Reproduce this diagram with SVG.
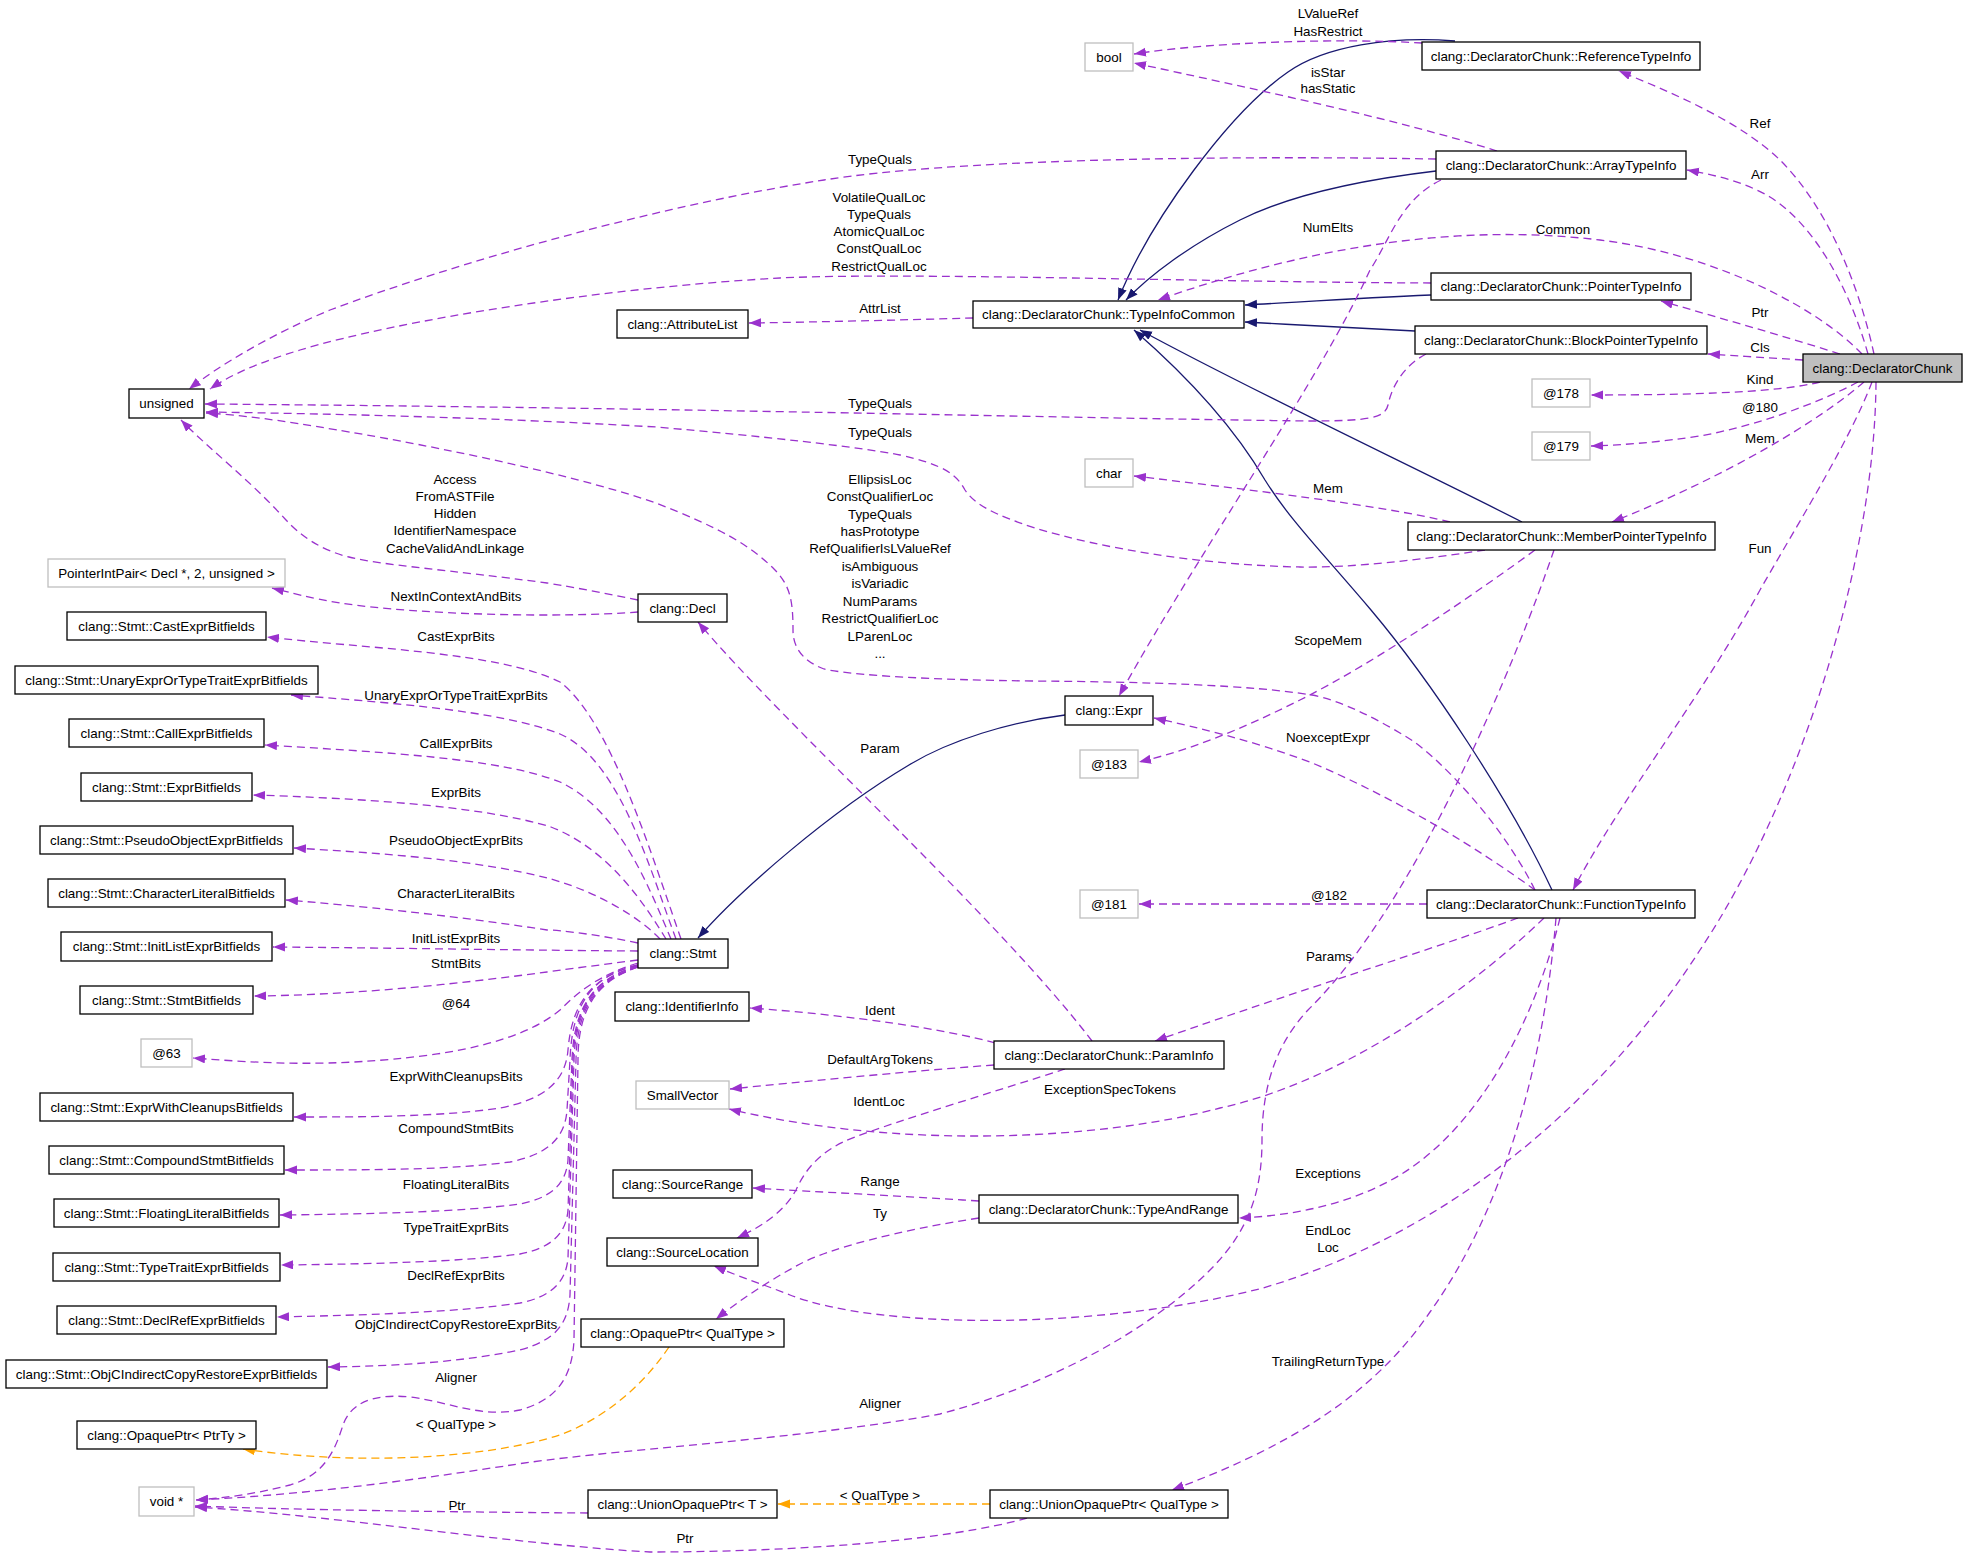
<svg xmlns="http://www.w3.org/2000/svg" width="1968" height="1558" viewBox="0 0 1968 1558">
<style>
rect{fill:#fff;stroke:#000;stroke-width:1.3}
.g rect{stroke:#bfbfbf}
.m rect{fill:#bfbfbf}
text{font-family:"Liberation Sans",Arial,Helvetica,sans-serif;font-size:13.4px;text-anchor:middle;fill:#000}
.e{fill:none;stroke:#9a32cd;stroke-width:1.3;stroke-dasharray:8,5;marker-end:url(#ap)}
.i{fill:none;stroke:#191970;stroke-width:1.3;marker-end:url(#an)}
.o{fill:none;stroke:#ffa500;stroke-width:1.3;stroke-dasharray:8,5;marker-end:url(#ao)}
</style>
<defs>
<marker id="ap" markerWidth="13" markerHeight="10" refX="12" refY="4.5" orient="auto" markerUnits="userSpaceOnUse"><path d="M0,0 L12,4.5 L0,9 z" fill="#9a32cd"/></marker>
<marker id="an" markerWidth="13" markerHeight="10" refX="12" refY="4.5" orient="auto" markerUnits="userSpaceOnUse"><path d="M0,0 L12,4.5 L0,9 z" fill="#191970"/></marker>
<marker id="ao" markerWidth="13" markerHeight="10" refX="12" refY="4.5" orient="auto" markerUnits="userSpaceOnUse"><path d="M0,0 L12,4.5 L0,9 z" fill="#ffa500"/></marker>
</defs>
<rect x="0" y="0" width="1968" height="1558" style="fill:#fff;stroke:none"/>
<g id="edges">
<path class="i" d="M1455,41 C1390,36 1325,46 1288,72 C1230,112 1150,220 1118,300"/>
<path class="i" d="M1436,171 C1360,180 1290,195 1240,220 C1190,245 1150,275 1126,300"/>
<path class="i" d="M1431,295 C1360,298 1300,302 1245,305"/>
<path class="i" d="M1415,331 C1350,328 1300,325 1245,322"/>
<path class="i" d="M1522,522 C1420,470 1250,390 1140,330"/>
<path class="i" d="M1552,890 C1510,800 1430,680 1371,610 C1320,550 1290,520 1265,480 C1230,420 1180,370 1134,330"/>
<path class="i" d="M1065,715 C1010,722 950,740 909,765 C830,812 740,890 698,938"/>
<path class="e" d="M1874,354 C1860,290 1830,210 1780,160 C1740,122 1680,96 1619,71"/>
<path class="e" d="M1868,354 C1850,290 1815,225 1770,197 C1745,182 1715,175 1687,170"/>
<path class="e" d="M1862,354 C1820,310 1720,255 1600,240 C1450,222 1300,250 1158,300"/>
<path class="e" d="M1840,354 C1780,335 1720,318 1661,301"/>
<path class="e" d="M1803,360 C1770,358 1740,356 1708,354"/>
<path class="e" d="M1820,382 C1780,392 1700,395 1591,395"/>
<path class="e" d="M1858,382 C1820,402 1760,425 1700,436 C1660,442 1625,445 1591,446"/>
<path class="e" d="M1864,382 C1820,420 1730,475 1612,522"/>
<path class="e" d="M1872,382 C1850,440 1800,520 1760,590 C1700,700 1620,800 1573,890"/>
<path class="e" d="M1876,382 C1875,560 1800,800 1700,950 C1610,1090 1460,1230 1263,1288 C1100,1330 880,1330 790,1295 C765,1285 740,1277 714,1266"/>
<path class="e" d="M1497,151 C1400,120 1250,88 1134,63"/>
<path class="e" d="M1422,43 C1340,38 1210,42 1134,54"/>
<path class="e" d="M1436,159 C1200,155 950,160 824,180 C650,207 450,265 330,310 C270,335 220,365 189,389"/>
<path class="e" d="M1431,283 C1200,282 900,272 780,278 C600,288 400,320 300,350 C260,362 230,375 210,389"/>
<path class="e" d="M1426,354 C1405,365 1392,385 1388,405 C1385,418 1370,421 1308,421 C1000,417 700,408 205,404"/>
<path class="e" d="M1485,550 C1420,560 1350,568 1300,567 C1200,565 1100,548 1035,528 C995,515 975,505 965,490 C957,475 945,465 900,455 C860,447 760,436 656,427 C500,418 350,414 206,412"/>
<path class="e" d="M1535,890 C1500,820 1440,760 1413,741 C1380,720 1340,700 1312,695 C1250,685 1150,682 1035,681 C930,680 850,675 824,669 C800,660 793,645 793,630 C793,600 790,585 774,569 C750,545 720,528 656,503 C560,470 400,440 337,430 C280,420 240,415 206,413"/>
<path class="e" d="M638,600 C600,592 560,585 547,583 C450,570 380,565 349,557 C320,550 300,535 286,520 C250,480 210,450 181,420"/>
<path class="e" d="M638,612 C560,618 420,615 340,603 C310,598 292,593 272,588"/>
<path class="e" d="M973,318 C900,320 820,322 749,323"/>
<path class="e" d="M1441,180 C1400,200 1390,240 1370,270 C1320,380 1200,550 1119,696"/>
<path class="e" d="M1450,522 C1380,505 1250,490 1134,476"/>
<path class="e" d="M1535,550 C1480,590 1380,660 1300,700 C1240,730 1190,750 1139,762"/>
<path class="e" d="M1554,550 C1520,650 1420,900 1308,1010 C1280,1040 1262,1080 1262,1140 C1262,1190 1250,1230 1210,1270 C1150,1330 1050,1385 940,1414 C800,1440 600,1450 505,1466 C400,1482 300,1495 196,1500"/>
<path class="e" d="M1535,890 C1480,850 1400,800 1310,762 C1250,740 1200,728 1154,718"/>
<path class="e" d="M1427,904 L1139,904"/>
<path class="e" d="M1518,918 C1430,950 1300,990 1155,1041"/>
<path class="e" d="M1544,918 C1480,980 1350,1080 1220,1108 C1100,1140 900,1150 729,1109"/>
<path class="e" d="M1560,918 C1540,1000 1490,1120 1400,1175 C1350,1205 1290,1216 1239,1218"/>
<path class="e" d="M1556,918 C1545,1050 1510,1200 1430,1312 C1370,1400 1280,1450 1172,1490"/>
<path class="e" d="M1092,1041 C1000,920 780,720 698,622"/>
<path class="e" d="M995,1043 C950,1030 850,1015 750,1008"/>
<path class="e" d="M994,1065 C900,1072 800,1082 730,1089"/>
<path class="e" d="M1065,1069 C1000,1090 900,1120 855,1137 C820,1150 805,1170 796,1190 C785,1210 765,1225 737,1238"/>
<path class="e" d="M979,1201 C900,1196 820,1192 753,1188"/>
<path class="e" d="M979,1218 C900,1230 830,1248 800,1264 C770,1280 740,1300 716,1319"/>
<path class="o" d="M669,1347 C640,1390 600,1420 560,1435 C480,1460 350,1465 243,1449"/>
<path class="o" d="M990,1504 L778,1504"/>
<path class="e" d="M588,1513 C450,1512 300,1510 195,1506"/>
<path class="e" d="M1027,1518 C950,1540 800,1552 650,1552 C520,1545 330,1515 195,1507"/>
<path class="e" d="M681,939 C650,850 610,720 560,682 C500,652 360,648 267,637"/>
<path class="e" d="M676,939 C650,870 620,760 560,734 C500,710 380,702 291,695"/>
<path class="e" d="M671,939 C650,890 620,810 560,782 C500,758 380,752 265,745"/>
<path class="e" d="M666,939 C645,905 610,850 551,827 C480,805 350,798 253,795"/>
<path class="e" d="M660,939 C640,918 600,893 551,879 C480,860 380,853 294,848"/>
<path class="e" d="M638,943 C600,935 560,930 547,930 C450,915 350,905 286,900"/>
<path class="e" d="M638,951 C500,950 400,948 273,947"/>
<path class="e" d="M638,960 C600,965 560,970 547,972 C450,985 350,995 254,996"/>
<path class="e" d="M638,963 C600,975 580,990 560,1010 C530,1035 480,1048 430,1055 C330,1068 260,1063 193,1058"/>
<path class="e" d="M638,965 C595,975 572,1000 568,1050 C565,1085 540,1100 500,1108 C440,1117 360,1117 294,1117"/>
<path class="e" d="M638,965 C595,975 572,1000 570,1060 L567,1110 C565,1140 545,1155 510,1162 C450,1170 370,1170 285,1170"/>
<path class="e" d="M638,966 C595,978 574,1005 572,1060 L568,1160 C566,1185 550,1198 520,1204 C460,1212 370,1214 280,1215"/>
<path class="e" d="M638,966 C596,978 575,1005 573,1060 L568,1210 C566,1235 550,1248 520,1254 C460,1262 370,1264 281,1265"/>
<path class="e" d="M638,967 C597,979 576,1005 574,1060 L568,1258 C566,1283 550,1297 520,1303 C460,1312 370,1315 277,1317"/>
<path class="e" d="M638,967 C598,980 577,1005 576,1060 L570,1295 C568,1325 555,1340 520,1350 C460,1362 400,1366 328,1367"/>
<path class="e" d="M638,967 C600,980 578,1005 578,1060 L574,1340 C572,1380 555,1400 520,1410 C480,1418 450,1402 410,1397 C370,1393 350,1405 343,1425 C335,1450 325,1475 290,1485 C255,1494 225,1498 196,1500"/>
<text x="1328" y="17.5">LValueRef</text>
<text x="1328" y="35.5">HasRestrict</text>
<text x="1328" y="76.5">isStar</text>
<text x="1328" y="92.5">hasStatic</text>
<text x="1760" y="127.5">Ref</text>
<text x="880" y="163.5">TypeQuals</text>
<text x="1760" y="178.5">Arr</text>
<text x="879" y="201.5">VolatileQualLoc</text>
<text x="879" y="218.5">TypeQuals</text>
<text x="879" y="235.5">AtomicQualLoc</text>
<text x="879" y="252.5">ConstQualLoc</text>
<text x="879" y="270.5">RestrictQualLoc</text>
<text x="1328" y="231.5">NumElts</text>
<text x="1563" y="233.5">Common</text>
<text x="880" y="312.5">AttrList</text>
<text x="1760" y="316.5">Ptr</text>
<text x="1760" y="351.5">Cls</text>
<text x="1760" y="383.5">Kind</text>
<text x="880" y="407.5">TypeQuals</text>
<text x="1760" y="411.5">@180</text>
<text x="880" y="436.5">TypeQuals</text>
<text x="1760" y="442.5">Mem</text>
<text x="455" y="483.5">Access</text>
<text x="455" y="500.8">FromASTFile</text>
<text x="455" y="518.1">Hidden</text>
<text x="455" y="535.4">IdentifierNamespace</text>
<text x="455" y="552.7">CacheValidAndLinkage</text>
<text x="880" y="483.5">EllipsisLoc</text>
<text x="880" y="501">ConstQualifierLoc</text>
<text x="880" y="518.5">TypeQuals</text>
<text x="880" y="535.9">hasPrototype</text>
<text x="880" y="553.3">RefQualifierIsLValueRef</text>
<text x="880" y="570.8">isAmbiguous</text>
<text x="880" y="588.2">isVariadic</text>
<text x="880" y="605.7">NumParams</text>
<text x="880" y="623.1">RestrictQualifierLoc</text>
<text x="880" y="640.5">LParenLoc</text>
<text x="880" y="658">...</text>
<text x="1328" y="492.5">Mem</text>
<text x="1760" y="552.5">Fun</text>
<text x="1328" y="644.5">ScopeMem</text>
<text x="1328" y="741.5">NoexceptExpr</text>
<text x="880" y="752.5">Param</text>
<text x="1329" y="899.5">@182</text>
<text x="1329" y="960.5">Params</text>
<text x="880" y="1014.5">Ident</text>
<text x="880" y="1063.5">DefaultArgTokens</text>
<text x="1110" y="1093.5">ExceptionSpecTokens</text>
<text x="879" y="1105.5">IdentLoc</text>
<text x="1328" y="1177.5">Exceptions</text>
<text x="880" y="1185.5">Range</text>
<text x="880" y="1217.5">Ty</text>
<text x="1328" y="1234.5">EndLoc</text>
<text x="1328" y="1251.5">Loc</text>
<text x="1328" y="1365.5">TrailingReturnType</text>
<text x="880" y="1407.5">Aligner</text>
<text x="880" y="1499.5">&lt; QualType &gt;</text>
<text x="685" y="1542.5">Ptr</text>
<text x="456" y="600.5">NextInContextAndBits</text>
<text x="456" y="640.5">CastExprBits</text>
<text x="456" y="699.5">UnaryExprOrTypeTraitExprBits</text>
<text x="456" y="747.5">CallExprBits</text>
<text x="456" y="796.5">ExprBits</text>
<text x="456" y="844.5">PseudoObjectExprBits</text>
<text x="456" y="897.5">CharacterLiteralBits</text>
<text x="456" y="942.5">InitListExprBits</text>
<text x="456" y="967.5">StmtBits</text>
<text x="456" y="1007.5">@64</text>
<text x="456" y="1080.5">ExprWithCleanupsBits</text>
<text x="456" y="1132.5">CompoundStmtBits</text>
<text x="456" y="1188.5">FloatingLiteralBits</text>
<text x="456" y="1231.5">TypeTraitExprBits</text>
<text x="456" y="1279.5">DeclRefExprBits</text>
<text x="456" y="1328.5">ObjCIndirectCopyRestoreExprBits</text>
<text x="456" y="1381.5">Aligner</text>
<text x="456" y="1428.5">&lt; QualType &gt;</text>
<text x="457" y="1509.5">Ptr</text>
</g>
<g id="n_DeclaratorChunk" class="m"><rect x="1803" y="354" width="159" height="28"/><text x="1882.5" y="372.5">clang::DeclaratorChunk</text></g>
<g id="n_ReferenceTypeInfo"><rect x="1422" y="42" width="278" height="28"/><text x="1561" y="60.5">clang::DeclaratorChunk::ReferenceTypeInfo</text></g>
<g id="n_ArrayTypeInfo"><rect x="1436" y="151" width="250" height="28"/><text x="1561" y="169.5">clang::DeclaratorChunk::ArrayTypeInfo</text></g>
<g id="n_PointerTypeInfo"><rect x="1431" y="273" width="260" height="27"/><text x="1561" y="291">clang::DeclaratorChunk::PointerTypeInfo</text></g>
<g id="n_BlockPointerTypeInfo"><rect x="1415" y="326" width="292" height="28"/><text x="1561" y="344.5">clang::DeclaratorChunk::BlockPointerTypeInfo</text></g>
<g id="n_TypeInfoCommon"><rect x="973" y="301" width="271" height="27"/><text x="1108.5" y="319">clang::DeclaratorChunk::TypeInfoCommon</text></g>
<g id="n_AttributeList"><rect x="617" y="310" width="131" height="28"/><text x="682.5" y="328.5">clang::AttributeList</text></g>
<g id="n_bool" class="g"><rect x="1085" y="43" width="48" height="28"/><text x="1109" y="61.5">bool</text></g>
<g id="n_unsigned"><rect x="129" y="389" width="75" height="29"/><text x="166.5" y="408">unsigned</text></g>
<g id="n_char" class="g"><rect x="1085" y="459" width="48" height="28"/><text x="1109" y="477.5">char</text></g>
<g id="n_178" class="g"><rect x="1532" y="379" width="58" height="28"/><text x="1561" y="397.5">@178</text></g>
<g id="n_179" class="g"><rect x="1532" y="432" width="58" height="28"/><text x="1561" y="450.5">@179</text></g>
<g id="n_MemberPointerTypeInfo"><rect x="1408" y="522" width="307" height="28"/><text x="1561.5" y="540.5">clang::DeclaratorChunk::MemberPointerTypeInfo</text></g>
<g id="n_FunctionTypeInfo"><rect x="1427" y="890" width="268" height="28"/><text x="1561" y="908.5">clang::DeclaratorChunk::FunctionTypeInfo</text></g>
<g id="n_Expr"><rect x="1065" y="696" width="88" height="29"/><text x="1109" y="715">clang::Expr</text></g>
<g id="n_183" class="g"><rect x="1080" y="750" width="58" height="28"/><text x="1109" y="768.5">@183</text></g>
<g id="n_181" class="g"><rect x="1080" y="890" width="58" height="28"/><text x="1109" y="908.5">@181</text></g>
<g id="n_Decl"><rect x="638" y="594" width="89" height="28"/><text x="682.5" y="612.5">clang::Decl</text></g>
<g id="n_Stmt"><rect x="638" y="939" width="90" height="29"/><text x="683" y="958">clang::Stmt</text></g>
<g id="n_PointerIntPair" class="g"><rect x="48" y="559" width="237" height="28"/><text x="166.5" y="577.5">PointerIntPair&lt; Decl *, 2, unsigned &gt;</text></g>
<g id="n_CastExprBitfields"><rect x="67" y="612" width="199" height="28"/><text x="166.5" y="630.5">clang::Stmt::CastExprBitfields</text></g>
<g id="n_UnaryExprOrTypeTraitExprBitfields"><rect x="15" y="666" width="303" height="28"/><text x="166.5" y="684.5">clang::Stmt::UnaryExprOrTypeTraitExprBitfields</text></g>
<g id="n_CallExprBitfields"><rect x="69" y="719" width="195" height="28"/><text x="166.5" y="737.5">clang::Stmt::CallExprBitfields</text></g>
<g id="n_ExprBitfields"><rect x="81" y="773" width="171" height="28"/><text x="166.5" y="791.5">clang::Stmt::ExprBitfields</text></g>
<g id="n_PseudoObjectExprBitfields"><rect x="40" y="826" width="253" height="28"/><text x="166.5" y="844.5">clang::Stmt::PseudoObjectExprBitfields</text></g>
<g id="n_CharacterLiteralBitfields"><rect x="48" y="879" width="237" height="28"/><text x="166.5" y="897.5">clang::Stmt::CharacterLiteralBitfields</text></g>
<g id="n_InitListExprBitfields"><rect x="61" y="932" width="211" height="29"/><text x="166.5" y="951">clang::Stmt::InitListExprBitfields</text></g>
<g id="n_StmtBitfields"><rect x="80" y="986" width="173" height="28"/><text x="166.5" y="1004.5">clang::Stmt::StmtBitfields</text></g>
<g id="n_63" class="g"><rect x="141" y="1039" width="51" height="28"/><text x="166.5" y="1057.5">@63</text></g>
<g id="n_ExprWithCleanupsBitfields"><rect x="40" y="1093" width="253" height="28"/><text x="166.5" y="1111.5">clang::Stmt::ExprWithCleanupsBitfields</text></g>
<g id="n_CompoundStmtBitfields"><rect x="49" y="1146" width="235" height="28"/><text x="166.5" y="1164.5">clang::Stmt::CompoundStmtBitfields</text></g>
<g id="n_FloatingLiteralBitfields"><rect x="54" y="1199" width="225" height="28"/><text x="166.5" y="1217.5">clang::Stmt::FloatingLiteralBitfields</text></g>
<g id="n_TypeTraitExprBitfields"><rect x="53" y="1253" width="227" height="28"/><text x="166.5" y="1271.5">clang::Stmt::TypeTraitExprBitfields</text></g>
<g id="n_DeclRefExprBitfields"><rect x="57" y="1306" width="219" height="28"/><text x="166.5" y="1324.5">clang::Stmt::DeclRefExprBitfields</text></g>
<g id="n_ObjCIndirectCopyRestoreExprBitfields"><rect x="6" y="1360" width="321" height="28"/><text x="166.5" y="1378.5">clang::Stmt::ObjCIndirectCopyRestoreExprBitfields</text></g>
<g id="n_OpaquePtrPtrTy"><rect x="77" y="1421" width="179" height="28"/><text x="166.5" y="1439.5">clang::OpaquePtr&lt; PtrTy &gt;</text></g>
<g id="n_void" class="g"><rect x="139" y="1487" width="55" height="29"/><text x="166.5" y="1506">void *</text></g>
<g id="n_IdentifierInfo"><rect x="615" y="992" width="134" height="29"/><text x="682" y="1011">clang::IdentifierInfo</text></g>
<g id="n_ParamInfo"><rect x="994" y="1041" width="230" height="28"/><text x="1109" y="1059.5">clang::DeclaratorChunk::ParamInfo</text></g>
<g id="n_SmallVector" class="g"><rect x="636" y="1081" width="93" height="28"/><text x="682.5" y="1099.5">SmallVector</text></g>
<g id="n_SourceRange"><rect x="613" y="1170" width="139" height="28"/><text x="682.5" y="1188.5">clang::SourceRange</text></g>
<g id="n_TypeAndRange"><rect x="979" y="1195" width="259" height="28"/><text x="1108.5" y="1213.5">clang::DeclaratorChunk::TypeAndRange</text></g>
<g id="n_SourceLocation"><rect x="607" y="1238" width="151" height="28"/><text x="682.5" y="1256.5">clang::SourceLocation</text></g>
<g id="n_OpaquePtrQualType"><rect x="581" y="1319" width="203" height="28"/><text x="682.5" y="1337.5">clang::OpaquePtr&lt; QualType &gt;</text></g>
<g id="n_UnionOpaquePtrT"><rect x="588" y="1490" width="189" height="28"/><text x="682.5" y="1508.5">clang::UnionOpaquePtr&lt; T &gt;</text></g>
<g id="n_UnionOpaquePtrQualType"><rect x="990" y="1490" width="238" height="28"/><text x="1109" y="1508.5">clang::UnionOpaquePtr&lt; QualType &gt;</text></g>
</svg>
